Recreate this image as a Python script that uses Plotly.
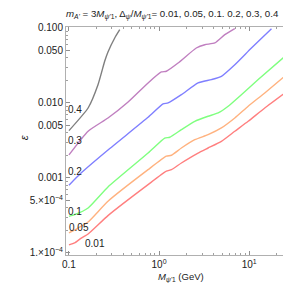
import plotly.graph_objects as go

# ---- data ----
x_001 = [0.1, 0.1156, 0.137, 0.163, 0.271, 0.755, 1.205, 1.371, 1.77, 2.71, 3.50, 4.92, 6.93, 9.75, 14.9, 29.5]
y_001 = [1.28e-4, 1.36e-4, 1.58e-4, 1.79e-4, 3.15e-4, 8.15e-4, 1.23e-3, 1.29e-3, 1.585e-3, 2.15e-3, 2.51e-3, 3.08e-3, 4.20e-3, 5.70e-3, 8.57e-3, 1.58e-2]

x_005 = [0.1, 0.126, 0.163, 0.271, 0.755, 1.205, 1.371, 1.77, 2.49, 3.50, 4.92, 6.93, 9.75, 14.9, 29.5]
y_005 = [1.85e-4, 2.15e-4, 2.59e-4, 4.89e-4, 1.29e-3, 1.95e-3, 2.01e-3, 2.51e-3, 3.24e-3, 3.78e-3, 4.65e-3, 6.31e-3, 9.04e-3, 1.36e-2, 2.70e-2]

x_01 = [0.1, 0.1156, 0.163, 0.271, 0.755, 1.156, 1.315, 1.77, 2.49, 3.50, 4.53, 5.85, 8.20, 12.6, 29.5]
y_01 = [3.08e-4, 3.24e-4, 3.98e-4, 7.59e-4, 2.15e-3, 3.41e-3, 3.49e-3, 4.41e-3, 5.70e-3, 6.65e-3, 7.36e-3, 9.04e-3, 1.29e-2, 2.05e-2, 4.98e-2]

x_02 = [0.1, 0.137, 0.271, 0.755, 1.107, 1.259, 1.77, 2.71, 3.81, 4.92, 6.93, 10.6, 17.7]
y_02 = [8.0e-4, 1.17e-3, 2.36e-3, 6.44e-3, 9.70e-3, 1.0e-2, 1.29e-2, 1.85e-2, 2.05e-2, 2.27e-2, 3.24e-2, 5.41e-2, 9.8e-2]

x_03 = [0.1, 0.163, 0.271, 0.453, 0.755, 1.06, 1.205, 1.626, 2.59, 3.22, 4.16, 5.37, 6.93]
y_03 = [2.03e-3, 4.20e-3, 6.3e-3, 1.03e-2, 1.85e-2, 2.59e-2, 2.65e-2, 3.41e-2, 5.41e-2, 5.98e-2, 6.31e-2, 8.15e-2, 9.8e-2]

x_04 = [0.1, 0.163, 0.21, 0.249, 0.271, 0.322, 0.366]
y_04 = [4.28e-3, 8.57e-3, 1.75e-2, 3.6e-2, 4.79e-2, 7.36e-2, 9.48e-2]

series_names = ["0.01", "0.05", "0.1", "0.2", "0.3", "0.4"]
series_x = [x_001, x_005, x_01, x_02, x_03, x_04]
series_y = [y_001, y_005, y_01, y_02, y_03, y_04]
colors = ["#ff7f7f", "#ffb27f", "#7fff7f", "#7f7fff", "#c07fc0", "#7f7f7f"]

# label positions (log10 coords)
label_x = [-0.714, -0.889, -0.933, -0.928, -0.933, -0.933]
label_y = [-3.867, -3.657, -3.444, -2.911, -2.503, -2.089]

x_tickvals = [0.1, 1, 10]
x_ticktext = ["0.1", "10<sup>0</sup>", "10<sup>1</sup>"]
y_tickvals = [1e-4, 5e-4, 1e-3, 5e-3, 1e-2, 5e-2, 1e-1]
y_ticktext = ["1.×10<sup>−4</sup>", "5.×10<sup>−4</sup>", "0.001", "0.005", "0.010", "0.050", "0.100"]

x_minor = [m * 10 ** e for e in (-1, 0, 1) for m in range(2, 10) if m * 10 ** e < 35]
y_minor = [m * 10 ** e for e in (-5, -4, -3, -2) for m in range(2, 10) if 9e-5 < m * 10 ** e < 0.11]

FONT = "Liberation Sans, Arial, sans-serif"

fig = go.Figure()
for nm, xs, ys, c in zip(series_names, series_x, series_y, colors):
    fig.add_trace(go.Scatter(x=xs, y=ys, mode="lines", name=nm,
                             line=dict(color=c, width=1.4, shape="spline", smoothing=0.5),
                             showlegend=False))

for nm, lx, ly in zip(series_names, label_x, label_y):
    fig.add_annotation(x=lx, y=ly, xref="x", yref="y", text=nm, showarrow=False,
                       font=dict(family=FONT, size=10, color="#222"))

axis_common = dict(type="log", showgrid=False, zeroline=False, showline=True,
                   linecolor="#b0b0b0", linewidth=1, mirror="allticks",
                   ticks="inside", ticklen=4, tickcolor="#909090",
                   tickfont=dict(family=FONT, size=10, color="#222"))

fig.update_xaxes(range=[-1.033, 1.52], tickvals=x_tickvals, ticktext=x_ticktext,
                 minor=dict(tickvals=x_minor, ticks="inside", ticklen=2, tickcolor="#a0a0a0"),
                 **axis_common)
fig.update_yaxes(range=[-4.027, -0.987], tickvals=y_tickvals, ticktext=y_ticktext,
                 minor=dict(tickvals=y_minor, ticks="inside", ticklen=2, tickcolor="#a0a0a0"),
                 **axis_common)

fig.add_annotation(x=0.5, y=-0.1, xref="paper", yref="paper", yanchor="middle",
                   text="<i>M</i><sub><i>ψ'</i>1</sub> (GeV)", showarrow=False, borderpad=0,
                   font=dict(family=FONT, size=9.5, color="#222"))
fig.add_annotation(x=-0.217, y=0.513, xref="paper", yref="paper", text="<i>ε</i>",
                   showarrow=False, textangle=-90,
                   font=dict(family=FONT, size=11, color="#222"))

fig.update_layout(
    width=291, height=283,
    margin=dict(l=58, r=3, t=19, b=36),
    paper_bgcolor="white", plot_bgcolor="white",
    title=dict(text="<i>m</i><sub><i>A'</i></sub> = 3<i>M</i><sub><i>ψ'</i>1</sub>, Δ<sub><i>ψ</i></sub>/<i>M</i><sub><i>ψ'</i>1</sub>= 0.01, 0.05, 0.1. 0.2, 0.3, 0.4",
               x=0, xref="paper", y=1 - 6 / 283, yref="container", yanchor="middle", xanchor="left",
               font=dict(family=FONT, size=9.7, color="#222")),
)

fig.write_html("out.html")
